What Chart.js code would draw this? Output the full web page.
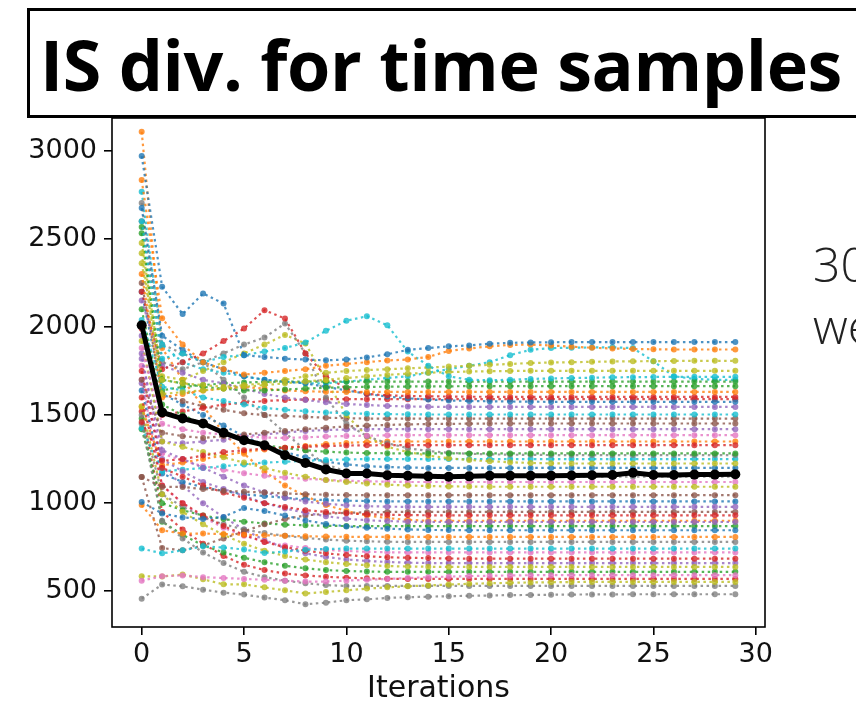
<!DOCTYPE html>
<html>
<head>
<meta charset="utf-8">
<script src="https://cdn.jsdelivr.net/npm/chart.js@4.4.1/dist/chart.umd.min.js"></script>
<style>
  html, body { margin: 0; padding: 0; background: #fff; overflow: hidden; }
  #wrap { position: relative; width: 856px; height: 707px; overflow: hidden; }
  #plot { position: absolute; left: 0; top: 0; }
  #titlebox {
    position: absolute; left: 27px; top: 8px; width: 900px; height: 110px;
    box-sizing: border-box; border: 3px solid #000; background: #fff;
  }
  #titletext {
    position: absolute; left: 40px; top: 29px; line-height: 1;
    font-family: "Open Sans", "Noto Sans", sans-serif; font-weight: 700;
    font-size: 70px; color: #000; white-space: nowrap; letter-spacing: -0.4px;
  }
  .side {
    position: absolute; left: 813px; line-height: 1; white-space: nowrap;
    font-family: "Open Sans", "Noto Sans", sans-serif; font-weight: 300;
    font-size: 48px; color: #222;
  }
</style>
</head>
<body>
<div id="wrap">
  <canvas id="plot" width="856" height="707"></canvas>
  <div id="titlebox"></div>
  <div id="titletext">IS div. for time samples</div>
  <div class="side" style="top:240px">30</div>
  <div class="side" style="top:302px">we</div>
</div>
<script>
const iterations = [0,1,2,3,4,5,6,7,8,9,10,11,12,13,14,15,16,17,18,19,20,21,22,23,24,25,26,27,28,29];
const xTicks = [0, 5, 10, 15, 20, 25, 30];
const yTicks = [500, 1000, 1500, 2000, 2500, 3000];

const meanDiv = [2010,1515,1480,1452,1400,1357,1329,1272,1228,1191,
                 1168,1168,1158,1155,1152,1150,1152,1155,1155,1155,
                 1156,1157,1158,1160,1172,1160,1160,1162,1162,1164];

const run01 = [2970,2228,2073,2190,2133,1840,1830,1820,1815,1811,
               1815,1827,1845,1870,1880,1890,1895,1905,1910,1912,
               1913,1914,1914,1914,1914,1914,1914,1914,1914,1914];
const run02 = [2834,2050,1900,1800,1760,1730,1740,1750,1760,1780,
               1790,1800,1810,1815,1830,1864,1878,1890,1898,1900,
               1895,1888,1882,1878,1875,1873,1872,1872,1872,1872];
const run03 = [2600,1820,1850,1800,1830,1840,1860,1880,1912,1978,
               2035,2061,2010,1860,1780,1720,1700,1698,1700,1705,
               1708,1710,1712,1714,1715,1716,1717,1717,1717,1717];
const run04 = [2476,1700,1680,1670,1660,1670,1680,1700,1720,1740,
               1750,1755,1760,1765,1770,1775,1780,1785,1790,1795,
               1798,1800,1802,1804,1805,1806,1807,1808,1808,1808];
const run05 = [2419,1620,1630,1640,1650,1660,1670,1680,1690,1700,
               1710,1720,1728,1735,1740,1744,1747,1749,1750,1751,
               1751,1751,1751,1751,1751,1751,1751,1751,1751,1751];
const run06 = [2568,1700,1680,1660,1650,1640,1640,1645,1650,1655,
               1658,1660,1661,1662,1663,1663,1664,1664,1664,1664,
               1664,1664,1664,1664,1664,1664,1664,1664,1664,1664];
const run07 = [2300,1600,1620,1640,1650,1660,1650,1640,1635,1632,
               1631,1631,1631,1631,1631,1631,1631,1631,1631,1631,
               1631,1631,1631,1631,1631,1631,1631,1631,1631,1631];
const run08 = [2200,1760,1800,1850,1920,1991,2095,2048,1850,1720,
               1650,1620,1612,1608,1606,1605,1604,1604,1603,1603,
               1603,1603,1603,1603,1603,1603,1603,1603,1603,1603];
const run09 = [2675,1950,1870,1800,1760,1720,1700,1690,1680,1660,
               1640,1620,1605,1595,1588,1583,1580,1578,1577,1576,
               1575,1575,1575,1575,1575,1575,1575,1575,1575,1575];
const run10 = [2150,1780,1740,1700,1680,1650,1620,1600,1585,1572,
               1563,1557,1552,1549,1547,1546,1546,1546,1546,1546,
               1546,1546,1546,1546,1546,1546,1546,1546,1546,1546];
const run11 = [2040,1660,1640,1600,1580,1560,1540,1530,1522,1515,
               1510,1507,1505,1504,1503,1503,1503,1503,1503,1503,
               1503,1503,1503,1503,1503,1503,1503,1503,1503,1503];
const run12 = [1700,1400,1380,1370,1380,1390,1400,1410,1420,1428,
               1435,1440,1444,1447,1449,1450,1451,1452,1452,1452,
               1452,1452,1452,1452,1452,1452,1452,1452,1452,1452];
const run13 = [1880,1450,1420,1400,1390,1380,1372,1370,1374,1378,
               1381,1383,1385,1386,1386,1386,1386,1386,1386,1386,
               1386,1386,1386,1386,1386,1386,1386,1386,1386,1386];
const run14 = [1461,1240,1250,1270,1290,1300,1310,1315,1320,1324,
               1327,1328,1329,1329,1329,1329,1329,1329,1329,1329,
               1329,1329,1329,1329,1329,1329,1329,1329,1329,1329];
const run15 = [2100,1560,1500,1450,1400,1360,1330,1312,1300,1292,
               1287,1284,1283,1282,1282,1282,1282,1282,1282,1282,
               1282,1282,1282,1282,1282,1282,1282,1282,1282,1282];
const run16 = [2703,1800,1760,1800,1850,1900,1940,2020,1850,1600,
               1450,1380,1340,1312,1296,1286,1280,1277,1275,1274,
               1273,1273,1273,1273,1273,1273,1273,1273,1273,1273];
const run17 = [2362,1720,1700,1750,1800,1850,1900,1955,1906,1700,
               1500,1380,1320,1290,1270,1255,1245,1238,1232,1228,
               1226,1225,1225,1225,1225,1225,1225,1225,1225,1225];
const run18 = [1920,1350,1320,1290,1260,1230,1200,1172,1150,1132,
               1120,1111,1105,1100,1097,1095,1094,1093,1093,1093,
               1093,1093,1093,1093,1093,1093,1093,1093,1093,1093];
const run19 = [1149,1092,1092,1080,1070,1065,1060,1055,1051,1048,
               1046,1045,1045,1045,1045,1045,1045,1045,1045,1045,
               1045,1045,1045,1045,1045,1045,1045,1045,1045,1045];
const run20 = [1820,1300,1250,1200,1150,1100,1062,1032,1010,996,
               988,983,980,979,979,979,979,979,979,979,
               979,979,979,979,979,979,979,979,979,979];
const run21 = [1750,1200,1150,1100,1060,1030,1000,978,960,950,
               942,937,934,932,931,931,931,931,931,931,
               931,931,931,931,931,931,931,931,931,931];
const run22 = [1680,1250,1180,1120,1080,1040,1000,970,945,926,
               912,903,898,895,893,893,893,893,893,893,
               893,893,893,893,893,893,893,893,893,893];
const run23 = [1007,941,919,910,922,972,955,930,902,882,
               868,860,855,851,848,847,846,846,846,846,
               846,846,846,846,846,846,846,846,846,846];
const run24 = [989,846,827,827,825,820,818,815,812,810,
               809,808,808,808,808,808,808,808,808,808,
               808,808,808,808,808,808,808,808,808,808];
const run25 = [742,715,732,755,748,737,717,725,735,740,
               742,742,742,742,742,742,742,742,742,742,
               742,742,742,742,742,742,742,742,742,742];
const run26 = [1600,1100,1000,930,870,820,780,750,730,715,
               705,698,693,690,688,686,685,685,685,685,
               685,685,685,685,685,685,685,685,685,685];
const run27 = [1550,1050,950,880,820,770,730,700,680,665,
               655,648,643,640,639,638,638,638,638,638,
               638,638,638,638,638,638,638,638,638,638];
const run28 = [560,585,590,580,575,570,565,560,555,555,
               560,565,570,575,580,583,586,588,590,591,
               591,591,591,591,591,591,591,591,591,591];
const run29 = [585,584,595,568,539,539,522,505,487,496,
               505,515,522,528,533,538,542,545,548,550,
               551,552,553,553,553,553,553,553,553,553];
const run30 = [1450,900,800,720,660,610,580,560,545,535,
               530,530,530,530,530,530,530,530,530,530,
               530,530,530,530,530,530,530,530,530,530];
const run31 = [458,538,528,509,492,481,464,449,426,435,
               449,454,462,466,469,472,474,476,478,479,
               480,481,482,482,483,483,483,483,483,483];
const run32 = [2532,1640,1660,1670,1680,1685,1688,1690,1690,1690,
               1690,1690,1690,1690,1690,1690,1690,1690,1690,1690,
               1690,1690,1690,1690,1690,1690,1690,1690,1690,1690];
const run33 = [1990,1500,1520,1540,1560,1570,1580,1585,1588,1590,
               1590,1590,1590,1590,1590,1590,1590,1590,1590,1590,
               1590,1590,1590,1590,1590,1590,1590,1590,1590,1590];
const run34 = [2250,1620,1580,1550,1530,1510,1500,1495,1490,1485,
               1482,1480,1480,1480,1480,1480,1480,1480,1480,1480,
               1480,1480,1480,1480,1480,1480,1480,1480,1480,1480];
const run35 = [1950,1350,1340,1350,1360,1380,1390,1400,1410,1415,
               1418,1420,1420,1420,1420,1420,1420,1420,1420,1420,
               1420,1420,1420,1420,1420,1420,1420,1420,1420,1420];
const run36 = [1546,1215,1230,1250,1270,1290,1305,1315,1325,1335,
               1342,1347,1350,1350,1350,1350,1350,1350,1350,1350,
               1350,1350,1350,1350,1350,1350,1350,1350,1350,1350];
const run37 = [1425,1180,1190,1200,1210,1220,1230,1235,1240,1245,
               1248,1250,1250,1250,1250,1250,1250,1250,1250,1250,
               1250,1250,1250,1250,1250,1250,1250,1250,1250,1250];
const run38 = [1780,1283,1240,1210,1190,1170,1155,1145,1138,1132,
               1127,1124,1122,1120,1120,1120,1120,1120,1120,1120,
               1120,1120,1120,1120,1120,1120,1120,1120,1120,1120];
const run39 = [1640,1168,1120,1090,1070,1050,1040,1030,1022,1017,
               1014,1012,1010,1010,1010,1010,1010,1010,1010,1010,
               1010,1010,1010,1010,1010,1010,1010,1010,1010,1010];
const run40 = [1149,745,732,760,800,840,880,910,930,940,
               945,948,950,950,950,950,950,950,950,950,
               950,950,950,950,950,950,950,950,950,950];
const run41 = [1420,1000,960,930,910,895,885,878,874,871,
               870,870,870,870,870,870,870,870,870,870,
               870,870,870,870,870,870,870,870,870,870];
const run42 = [1500,1050,980,920,880,850,830,815,802,793,
               787,783,781,780,780,780,780,780,780,780,
               780,780,780,780,780,780,780,780,780,780];
const run43 = [1700,1100,1000,920,860,815,780,760,745,735,
               728,724,721,720,720,720,720,720,720,720,
               720,720,720,720,720,720,720,720,720,720];
const run44 = [1850,1205,1100,1000,920,850,790,745,715,695,
               680,672,666,662,660,660,660,660,660,660,
               660,660,660,660,660,660,660,660,660,660];
const run45 = [1480,895,820,760,720,690,665,645,630,620,
               615,612,610,610,610,610,610,610,610,610,
               610,610,610,610,610,610,610,610,610,610];
const run46 = [1520,950,850,770,700,650,620,600,590,582,
               577,573,571,570,570,570,570,570,570,570,
               570,570,570,570,570,570,570,570,570,570];
const run47 = [2767,1900,1800,1760,1740,1720,1700,1690,1680,1680,
               1690,1700,1710,1720,1740,1760,1780,1800,1840,1870,
               1880,1882,1884,1885,1880,1805,1720,1705,1700,1700];
const run48 = [2600,1900,1850,1800,1700,1600,1500,1400,1300,1220,
               1180,1165,1157,1153,1151,1150,1150,1150,1150,1150,
               1150,1150,1150,1150,1150,1150,1150,1150,1150,1150];
const run49 = [2200,1620,1560,1500,1440,1380,1330,1290,1260,1235,
               1220,1210,1205,1202,1200,1200,1200,1200,1200,1200,
               1200,1200,1200,1200,1200,1200,1200,1200,1200,1200];
const run50 = [3108,1880,1700,1550,1400,1280,1180,1100,1040,990,
               955,930,915,905,900,900,900,900,900,900,
               900,900,900,900,900,900,900,900,900,900];

const runs = [run01,run02,run03,run04,run05,run06,run07,run08,run09,run10,
              run11,run12,run13,run14,run15,run16,run17,run18,run19,run20,
              run21,run22,run23,run24,run25,run26,run27,run28,run29,run30,
              run31,run32,run33,run34,run35,run36,run37,run38,run39,run40,
              run41,run42,run43,run44,run45,run46,run47,run48,run49,run50];

// tab10 colours, one per run
const tab10 = {
  blue: '31,119,180', orange: '255,127,14', green: '44,160,44', red: '214,39,40',
  purple: '148,103,189', brown: '140,86,75', pink: '227,119,194', gray: '127,127,127',
  olive: '188,189,34', cyan: '23,190,207'
};
const runColors = ['blue','orange','cyan','olive','olive','green','orange','red','blue','purple',
                   'cyan','brown','pink','red','green','gray','olive','olive','brown','purple',
                   'red','purple','blue','orange','cyan','red','olive','pink','olive','gray',
                   'gray','green','red','brown','purple','orange','cyan','pink','blue','brown',
                   'green','gray','pink','purple','green','red','cyan','gray','blue','orange'];

const tickFont = { family: 'DejaVu Sans', size: 27 };

const datasets = [{
  label: 'mean',
  data: meanDiv,
  borderColor: '#000',
  backgroundColor: '#000',
  borderWidth: 5,
  pointRadius: 5,
  pointBorderWidth: 0,
  pointBackgroundColor: '#000',
  order: 0
}];
runs.forEach((r, i) => {
  const c = 'rgba(' + tab10[runColors[i]] + ',0.8)';
  datasets.push({
    label: 'run ' + (i + 1),
    data: r,
    borderColor: c,
    backgroundColor: c,
    borderWidth: 2.2,
    borderDash: [2.5, 3.5],
    pointRadius: 3,
    pointBorderWidth: 0,
    pointBackgroundColor: c,
    order: 1
  });
});

const framePlugin = {
  id: 'frame',
  afterDraw(chart) {
    const {ctx, chartArea: a} = chart;
    ctx.save();
    ctx.strokeStyle = '#000';
    ctx.lineWidth = 1.6;
    ctx.strokeRect(a.left, a.top, a.right - a.left, a.bottom - a.top);
    ctx.restore();
  }
};

new Chart(document.getElementById('plot'), {
  type: 'line',
  data: { labels: iterations, datasets: datasets },
  plugins: [framePlugin],
  options: {
    responsive: false,
    animation: false,
    devicePixelRatio: 1,
    layout: { padding: { left: 0, right: 91, top: 118, bottom: 0 } },
    plugins: { legend: { display: false }, tooltip: { enabled: false } },
    scales: {
      x: {
        type: 'linear',
        min: -1.45,
        max: 30.45,
        afterBuildTicks(scale) { scale.ticks = xTicks.map(v => ({ value: v })); },
        afterFit(scale) { scale.height = 80; },
        border: { display: false },
        grid: { drawOnChartArea: false, drawTicks: true, tickLength: 8, color: '#000', lineWidth: 1.6 },
        ticks: { font: tickFont, color: '#111', padding: 4, maxRotation: 0, callback: v => String(v) },
        title: { display: true, text: 'Iterations', font: { family: 'DejaVu Sans', size: 30 },
                 color: '#111', padding: { top: 0, bottom: 0 } }
      },
      y: {
        min: 297,
        max: 3186,
        afterBuildTicks(scale) { scale.ticks = yTicks.map(v => ({ value: v })); },
        afterFit(scale) { scale.width = 112; },
        border: { display: false },
        grid: { drawOnChartArea: false, drawTicks: true, tickLength: 8, color: '#000', lineWidth: 1.6 },
        ticks: { font: tickFont, color: '#111', padding: 7, callback: v => String(v) }
      }
    }
  }
});
</script>
</body>
</html>
